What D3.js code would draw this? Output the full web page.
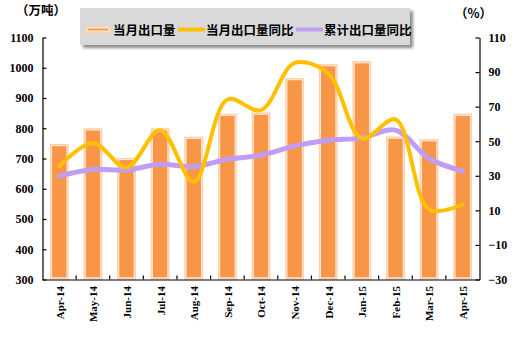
<!DOCTYPE html>
<html>
<head>
<meta charset="utf-8">
<script src="https://cdn.jsdelivr.net/npm/d3@7/dist/d3.min.js"></script>
<style>
  html, body { margin: 0; padding: 0; background: #ffffff; }
  svg { display: block; }
  .num { font-family: "Liberation Serif", "Times New Roman", serif; font-weight: bold; font-size: 12px; fill: #000; }
  .cat { font-family: "Liberation Serif", "Times New Roman", serif; font-weight: bold; font-size: 11px; fill: #000; }
  .cjk { font-family: "Noto Sans CJK SC", sans-serif; font-weight: bold; font-size: 12.5px; fill: #000; }
</style>
</head>
<body>
<svg id="chart" width="522" height="345"></svg>
<script>
// Monthly export volume (10k tonnes) with month-on-year and cumulative growth (%)
const categories = ["Apr-14", "May-14", "Jun-14", "Jul-14", "Aug-14", "Sep-14", "Oct-14",
                    "Nov-14", "Dec-14", "Jan-15", "Feb-15", "Mar-15", "Apr-15"];
const exportVolume = [748, 800, 702, 800, 772, 848, 852, 966, 1012, 1022, 773, 764, 848];
const monthlyYoY = [35.6, 49.0, 34.8, 56.4, 26.5, 74.1, 68.0, 95.3, 89.2, 51.6, 62.6, 10.5, 13.4];
const cumulativeYoY = [29.8, 33.6, 33.3, 36.7, 35.2, 39.6, 41.9, 47.3, 50.6, 51.8, 56.4, 40.0, 32.7];
const leftTicks = [300, 400, 500, 600, 700, 800, 900, 1000, 1100];
const rightTicks = [-30, -10, 10, 30, 50, 70, 90, 110];
const seriesNames = ["当月出口量", "当月出口量同比", "累计出口量同比"];

const svg = d3.select("#chart");
const plot = { left: 42.5, right: 479.5, top: 37.5, bottom: 279.5 };

const x = d3.scaleBand().domain(categories).range([plot.left, plot.right]).padding(0);
const yL = d3.scaleLinear().domain([300, 1100]).range([plot.bottom, plot.top]);
const yR = d3.scaleLinear().domain([-30, 110]).range([plot.bottom, plot.top]);

// bars: pale rim, thin light gap, orange body
const barW = x.bandwidth() * 0.56;
const bars = svg.append("g");
categories.forEach((c, i) => {
  const cx = x(c) + x.bandwidth() / 2;
  const top = yL(exportVolume[i]);
  const h = yL(300) - top;
  bars.append("rect").attr("x", cx - barW / 2).attr("y", top).attr("width", barW).attr("height", h)
    .attr("fill", "#fbd0ac");
  bars.append("rect").attr("x", cx - barW / 2 + 1.5).attr("y", top + 1.5).attr("width", barW - 3).attr("height", h - 3)
    .attr("fill", "#fff3e8");
  bars.append("rect").attr("x", cx - barW / 2 + 2.2).attr("y", top + 2.2).attr("width", barW - 4.4).attr("height", h - 4.4)
    .attr("fill", "#f79646");
});

// smooth growth lines on the right axis
const line = d3.line()
  .x((d, i) => x(categories[i]) + x.bandwidth() / 2)
  .y(d => yR(d))
  .curve(d3.curveCatmullRom.alpha(0.5));

svg.append("path").datum(cumulativeYoY).attr("d", line)
  .attr("fill", "none").attr("stroke", "#c09cf4").attr("stroke-width", 5).attr("stroke-linecap", "round");
svg.append("path").datum(monthlyYoY).attr("d", line)
  .attr("fill", "none").attr("stroke", "#ffc000").attr("stroke-width", 4).attr("stroke-linecap", "round");

// axes
const axL = svg.append("g").attr("transform", `translate(${plot.left},0)`)
  .call(d3.axisLeft(yL).tickValues(leftTicks).tickSizeInner(-4).tickSizeOuter(0).tickPadding(9)
    .tickFormat(d3.format("d")));
const axR = svg.append("g").attr("transform", `translate(${plot.right},0)`)
  .call(d3.axisRight(yR).tickValues(rightTicks).tickSizeInner(-4).tickSizeOuter(0).tickPadding(9)
    .tickFormat(d => d < 0 ? "\u2212" + Math.abs(d) : String(d)));
const axB = svg.append("g").attr("transform", `translate(0,${plot.bottom})`)
  .call(d3.axisBottom(x).tickSizeInner(0).tickSizeOuter(0).tickFormat(""));
[axL, axR, axB].forEach(g => {
  g.selectAll("path, line").attr("stroke", "#000").attr("stroke-width", 1.2);
  g.selectAll("text").attr("class", "num").attr("font-family", null).attr("font-size", null);
});
// category boundary ticks pointing up
axB.selectAll(".bt").data(d3.range(1, categories.length)).enter().append("line")
  .attr("x1", i => x(categories[i])).attr("x2", i => x(categories[i]))
  .attr("y1", 0).attr("y2", -4).attr("stroke", "#000").attr("stroke-width", 1.2);

// rotated month labels
svg.append("g").selectAll("text").data(categories).enter().append("text")
  .attr("class", "cat")
  .attr("text-anchor", "end")
  .attr("dy", "0.35em")
  .attr("transform", d => `translate(${x(d) + x.bandwidth() / 2 + 0.5},286) rotate(-90)`)
  .text(d => d);

// unit captions
svg.append("text").attr("class", "cjk").attr("x", 16).attr("y", 15).text("（万吨）");
svg.append("text").attr("class", "cjk").attr("x", 455).attr("y", 18).text("（%）");

// legend box with soft shadow
const defs = svg.append("defs");
const f = defs.append("filter").attr("id", "sh").attr("x", "-10%").attr("y", "-30%").attr("width", "130%").attr("height", "180%");
f.append("feGaussianBlur").attr("stdDeviation", 1.5);
svg.append("rect").attr("x", 83).attr("y", 11).attr("width", 330).attr("height", 37)
  .attr("fill", "#8c8c8c").attr("filter", "url(#sh)");
svg.append("rect").attr("x", 80).attr("y", 8).attr("width", 330).attr("height", 37).attr("fill", "#d9d9d9");

const lg = svg.append("g");
lg.append("rect").attr("x", 85).attr("y", 26).attr("width", 26).attr("height", 7).attr("fill", "#fbd0ac");
lg.append("rect").attr("x", 86.5).attr("y", 27.5).attr("width", 23).attr("height", 4).attr("fill", "#fff3e8");
lg.append("rect").attr("x", 87.5).attr("y", 28.5).attr("width", 21).attr("height", 2).attr("fill", "#f79646");
lg.append("text").attr("class", "cjk").attr("x", 113).attr("y", 34.5).text(seriesNames[0]);
lg.append("line").attr("x1", 178).attr("x2", 205).attr("y1", 29.5).attr("y2", 29.5)
  .attr("stroke", "#ffc000").attr("stroke-width", 4);
lg.append("text").attr("class", "cjk").attr("x", 206).attr("y", 34.5).text(seriesNames[1]);
lg.append("line").attr("x1", 296).attr("x2", 323).attr("y1", 29.5).attr("y2", 29.5)
  .attr("stroke", "#c09cf4").attr("stroke-width", 4);
lg.append("text").attr("class", "cjk").attr("x", 324).attr("y", 34.5).text(seriesNames[2]);
</script>
</body>
</html>
